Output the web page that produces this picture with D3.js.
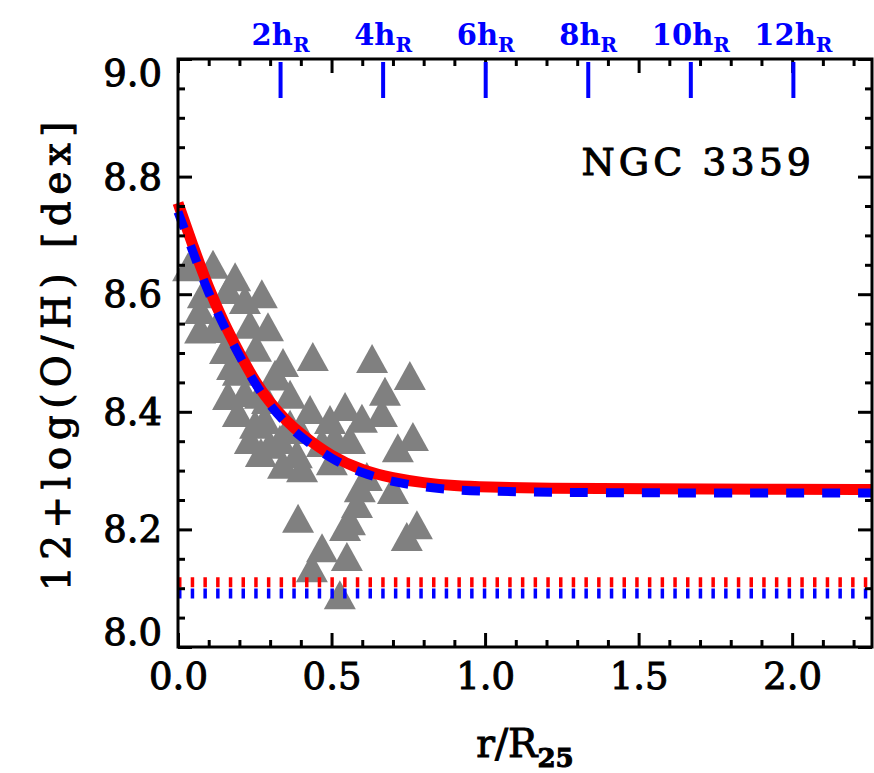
<!DOCTYPE html>
<html>
<head>
<meta charset="utf-8">
<script src="https://cdn.jsdelivr.net/npm/d3@7"></script>
<style>
body { margin: 0; background: #fff; }
text { font-family: "DejaVu Serif", serif; }
</style>
</head>
<body>
<div id="chart"></div>
<script>
// HII region abundances (r/R25, 12+log(O/H))
var radius = [0.033, 0.114, 0.186, 0.273, 0.081, 0.120, 0.293, 0.234, 0.195, 0.439,
  0.632, 0.755, 0.674, 0.544, 0.599, 0.664, 0.765, 0.716, 0.469, 0.511,
  0.615, 0.592, 0.583, 0.560, 0.700, 0.391, 0.778, 0.745, 0.544, 0.469,
  0.550, 0.436, 0.527, 0.299, 0.387, 0.342, 0.404, 0.501, 0.342, 0.195,
  0.254, 0.316, 0.267, 0.365, 0.234, 0.283, 0.397, 0.153, 0.072, 0.163,
  0.218, 0.495, 0.560, 0.430, 0.332, 0.365, 0.251, 0.218, 0.290, 0.163,
  0.176, 0.072, 0.320, 0.270];
var abundance = [8.646, 8.650, 8.629, 8.600, 8.600, 8.541, 8.544, 8.548, 8.468, 8.493,
  8.490, 8.461, 8.434, 8.408, 8.388, 8.398, 8.357, 8.338, 8.347, 8.355,
  8.289, 8.270, 8.243, 8.214, 8.267, 8.218, 8.207, 8.187, 8.204, 8.168,
  8.153, 8.134, 8.088, 8.344, 8.328, 8.310, 8.304, 8.316, 8.483, 8.398,
  8.509, 8.463, 8.429, 8.429, 8.352, 8.386, 8.369, 8.505, 8.573, 8.607,
  8.590, 8.386, 8.352, 8.403, 8.352, 8.378, 8.378, 8.432, 8.420, 8.427,
  8.478, 8.540, 8.460, 8.330];

// fitted profiles
var fitR = [0, 0.05, 0.1, 0.15, 0.2, 0.25, 0.3, 0.35, 0.4, 0.5, 0.6, 0.7, 0.8, 0.9, 1.0, 1.2, 1.5, 2.0, 2.26];
var fitRed = [8.755, 8.68, 8.61, 8.55, 8.50, 8.452, 8.415, 8.386, 8.362, 8.324, 8.300, 8.287, 8.279, 8.274, 8.272, 8.270, 8.269, 8.268, 8.268];
var fitBlue = [8.74, 8.67, 8.60, 8.545, 8.495, 8.448, 8.41, 8.381, 8.357, 8.319, 8.295, 8.281, 8.272, 8.267, 8.265, 8.263, 8.262, 8.262, 8.262];
var floorRed = 8.11;
var floorBlue = 8.091;

var xTicks = [0, 0.5, 1.0, 1.5, 2.0];
var yTicks = [8.0, 8.2, 8.4, 8.6, 8.8, 9.0];
var hrTicks = [2, 4, 6, 8, 10, 12];
var hR = 0.167; // disc scale length in units of R25

// svg container
var svgWidth = 874;
var svgHeight = 773;
var margin = {top: 59, right: 2, bottom: 126, left: 178};
var width = svgWidth - margin.left - margin.right;
var height = svgHeight - margin.top - margin.bottom;

var svg = d3.select("#chart")
  .append("svg")
  .attr("width", svgWidth)
  .attr("height", svgHeight);

var chartGroup = svg.append("g")
  .attr("transform", `translate(${margin.left}, ${margin.top})`);

var x = d3.scaleLinear().domain([0, 2.26]).range([0, width]);
var y = d3.scaleLinear().domain([8.0, 9.0]).range([height, 0]);

// triangles
var tri = "M0,-15L16,14L-16,14Z";
chartGroup.append("g")
  .selectAll("path")
  .data(radius)
  .enter()
  .append("path")
  .attr("d", tri)
  .attr("transform", (d, i) => `translate(${x(d)}, ${y(abundance[i])})`)
  .attr("fill", "#808080");

// fits
var fitLine = d3.line().x((d, i) => x(fitR[i])).y(d => y(d)).curve(d3.curveBasis);
chartGroup.append("path")
  .attr("d", fitLine(fitRed))
  .attr("fill", "none")
  .attr("stroke", "#ff0000")
  .attr("stroke-width", 11);
chartGroup.append("path")
  .attr("d", fitLine(fitBlue))
  .attr("fill", "none")
  .attr("stroke", "#0000ff")
  .attr("stroke-width", 9)
  .attr("stroke-dasharray", "18,18");

// floors
[[floorRed, "#ff0000"], [floorBlue, "#0000ff"]].forEach(function(f) {
  chartGroup.append("line")
    .attr("x1", 0).attr("x2", width)
    .attr("y1", y(f[0])).attr("y2", y(f[0]))
    .attr("stroke", f[1])
    .attr("stroke-width", 10)
    .attr("stroke-dasharray", "3.5,9.2");
});

// frame
chartGroup.append("rect")
  .attr("width", width).attr("height", height)
  .attr("fill", "none").attr("stroke", "black").attr("stroke-width", 3);

// medium weight: regular face with a thin outline
function heavy(sel) {
  sel.attr("stroke", "black").attr("stroke-width", 1).attr("fill", "black");
}

function styleAxis(g) {
  g.select(".domain").remove();
  g.selectAll("line").attr("stroke", "black").attr("stroke-width", 3);
  g.selectAll("text").attr("font-family", "DejaVu Serif").attr("font-size", 37).call(heavy);
}

var xMinor = d3.range(0, 23).filter(i => i % 5 != 0).map(i => i / 10);
var yMinor = d3.range(0, 21).filter(i => i % 4 != 0).map(i => 8 + i / 20);

// bottom
chartGroup.append("g")
  .attr("transform", `translate(0, ${height})`)
  .call(d3.axisBottom(x).tickValues(xTicks).tickSize(-14).tickPadding(16).tickFormat(d3.format(".1f")))
  .call(styleAxis);
chartGroup.append("g")
  .attr("transform", `translate(0, ${height})`)
  .call(d3.axisBottom(x).tickValues(xMinor).tickSize(-7).tickFormat(""))
  .call(styleAxis);
// top
chartGroup.append("g")
  .call(d3.axisTop(x).tickValues(xTicks).tickSize(-14).tickFormat(""))
  .call(styleAxis);
chartGroup.append("g")
  .call(d3.axisTop(x).tickValues(xMinor).tickSize(-7).tickFormat(""))
  .call(styleAxis);
// left
var left = chartGroup.append("g")
  .call(d3.axisLeft(y).tickValues(yTicks).tickSize(-14).tickPadding(16).tickFormat(d3.format(".1f")))
  .call(styleAxis);
// keep end labels inside the frame
left.selectAll(".tick text").attr("dy", null).attr("dominant-baseline", "central")
  .attr("y", d => Math.min(Math.max(0, 14 - y(d)), height - 15 - y(d)));
chartGroup.append("g")
  .call(d3.axisLeft(y).tickValues(yMinor).tickSize(-7).tickFormat(""))
  .call(styleAxis);
// right
chartGroup.append("g")
  .attr("transform", `translate(${width}, 0)`)
  .call(d3.axisRight(y).tickValues(yTicks).tickSize(-14).tickFormat(""))
  .call(styleAxis);
chartGroup.append("g")
  .attr("transform", `translate(${width}, 0)`)
  .call(d3.axisRight(y).tickValues(yMinor).tickSize(-7).tickFormat(""))
  .call(styleAxis);

// scale-length ticks along the top
var hr = chartGroup.append("g");
hr.selectAll("line")
  .data(hrTicks)
  .enter()
  .append("line")
  .attr("x1", d => x(d * hR)).attr("x2", d => x(d * hR))
  .attr("y1", 3).attr("y2", 39)
  .attr("stroke", "#0000ff")
  .attr("stroke-width", 4);
var hrText = hr.selectAll("text")
  .data(hrTicks)
  .enter()
  .append("text")
  .attr("x", d => x(d * hR))
  .attr("y", -14)
  .attr("text-anchor", "middle")
  .attr("fill", "#0000ff")
  .attr("font-weight", "bold")
  .attr("font-size", 29);
hrText.append("tspan").text(d => d + "h");
hrText.append("tspan").attr("font-size", 20).attr("dy", 7).text("R");

// galaxy name
chartGroup.append("text")
  .attr("x", 637)
  .attr("y", 116)
  .attr("text-anchor", "end")
  .attr("font-size", 38)
  .attr("letter-spacing", 4)
  .call(heavy)
  .text("NGC 3359");

// axis titles
var xt = chartGroup.append("text")
  .attr("x", width / 2)
  .attr("y", height + 110)
  .attr("text-anchor", "middle")
  .attr("font-size", 39)
  .call(heavy);
xt.append("tspan").text("r/R");
xt.append("tspan").attr("font-size", 26).attr("font-weight", "bold").attr("dy", 10).text("25");

chartGroup.append("text")
  .attr("transform", `translate(${70 - margin.left}, ${height / 2}) rotate(-90)`)
  .attr("text-anchor", "middle")
  .attr("font-size", 39)
  .attr("letter-spacing", 6.5)
  .call(heavy)
  .text("12+log(O/H) [dex]");
</script>
</body>
</html>
